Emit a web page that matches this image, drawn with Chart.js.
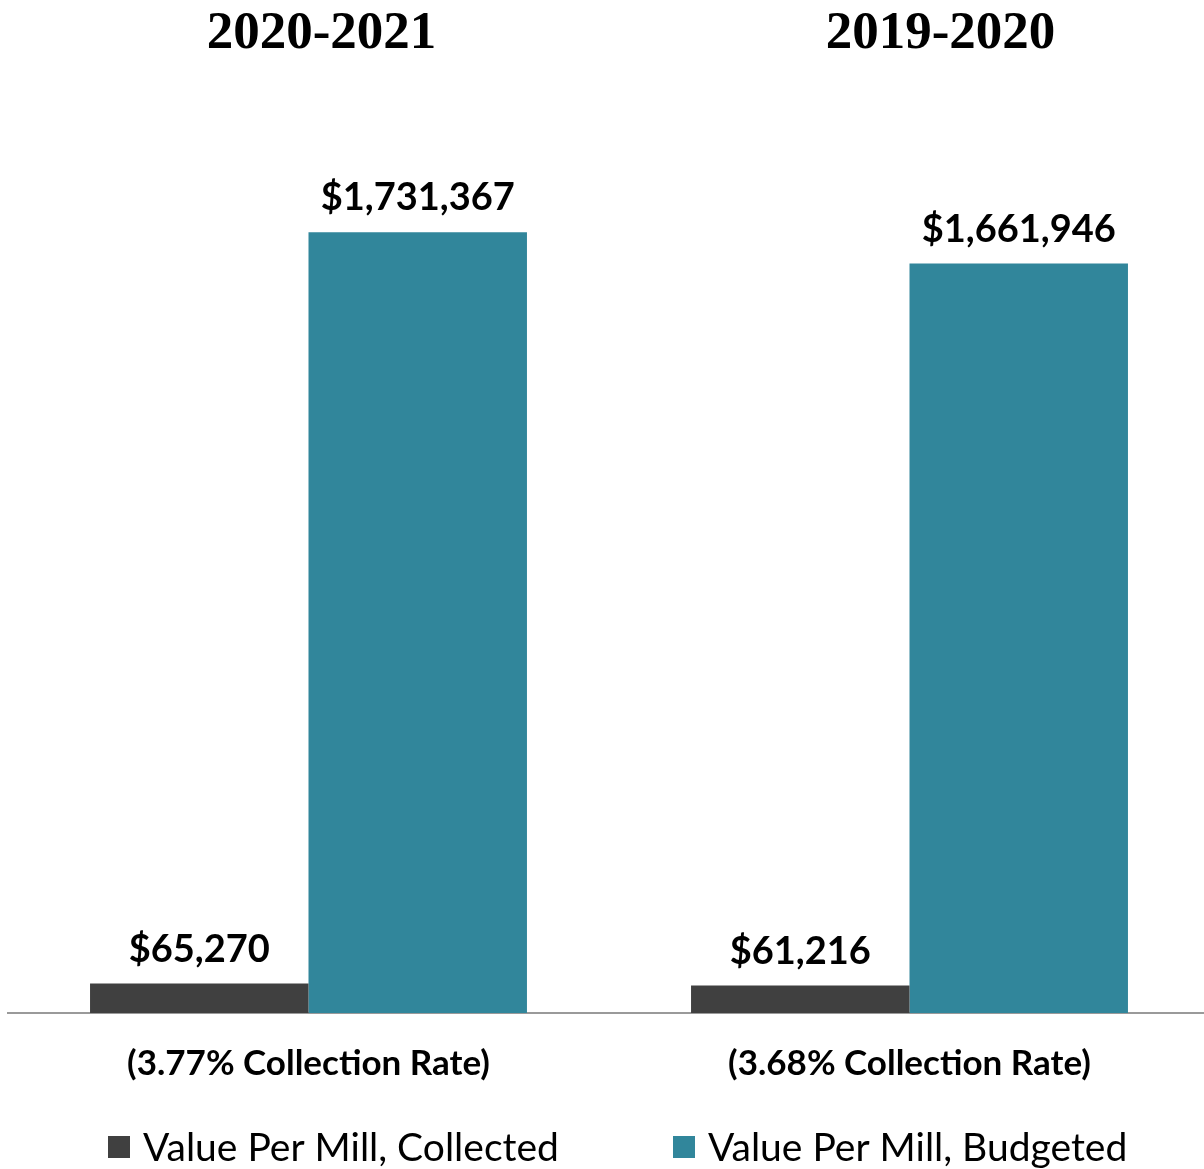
<!DOCTYPE html>
<html>
<head>
<meta charset="utf-8">
<script src="https://cdn.jsdelivr.net/npm/chart.js@4.4.0/dist/chart.umd.min.js"></script>
<style>
  html, body { margin: 0; padding: 0; background: #ffffff; overflow: hidden; }
  #wrap { width: 1210px; height: 1169px; position: relative; }
</style>
</head>
<body>
<div id="wrap"><canvas id="millChart"></canvas></div>
<script>
// Chart values
const yearTitles = ['2020-2021', '2019-2020'];
const categories = ['(3.77% Collection Rate)', '(3.68% Collection Rate)'];
const seriesNames = ['Value Per Mill, Collected', 'Value Per Mill, Budgeted'];
const collected = [65270, 61216];
const budgeted = [1731367, 1661946];

const darkColor = '#404040';
const tealColor = '#31869b';
const labelFont = 'Lato, "Open Sans", sans-serif';

// Dollar formatting for the value labels
function money(v) {
    return '$' + v.toLocaleString('en-US');
}

// Draws the year titles, value labels and the legend row
const decorPlugin = {
    id: 'decor',
    afterDraw(chart) {
        const ctx = chart.ctx;
        const xScale = chart.scales.x;
        ctx.save();

        // year titles above each group
        const titleShift = [13, 31];
        ctx.fillStyle = '#000000';
        ctx.font = 'bold 53px "Liberation Serif", "Times New Roman", serif';
        ctx.textAlign = 'center';
        ctx.textBaseline = 'middle';
        yearTitles.forEach((t, i) => {
            ctx.fillText(t, xScale.getPixelForValue(i) + titleShift[i], 34);
        });

        // value labels above bars
        ctx.font = 'bold 38px ' + labelFont;
        chart.data.datasets.forEach((ds, di) => {
            const meta = chart.getDatasetMeta(di);
            meta.data.forEach((bar, i) => {
                ctx.fillText(money(ds.data[i]), bar.x, bar.y - 34);
            });
        });

        // legend row
        const legendY = 1147;
        const legendX = [108, 673];
        ctx.font = '39px ' + labelFont;
        ctx.textAlign = 'left';
        chart.data.datasets.forEach((ds, di) => {
            ctx.fillStyle = ds.backgroundColor;
            ctx.fillRect(legendX[di], legendY - 11, 22, 22);
            ctx.fillStyle = '#000000';
            ctx.fillText(ds.label, legendX[di] + 35, legendY + 1);
        });

        ctx.restore();
    }
};

function renderChart() {
    const ctx = document.getElementById('millChart').getContext('2d');
    new Chart(ctx, {
        type: 'bar',
        data: {
            labels: categories,
            datasets: [
                { label: seriesNames[0], data: collected, backgroundColor: darkColor },
                { label: seriesNames[1], data: budgeted, backgroundColor: tealColor }
            ]
        },
        options: {
            responsive: true,
            maintainAspectRatio: false,
            animation: false,
            layout: {
                padding: { top: 111, left: 8, right: 0, bottom: 54 }
            },
            datasets: {
                bar: {
                    categoryPercentage: 0.727,
                    barPercentage: 1.0
                }
            },
            scales: {
                x: {
                    grid: { display: false, drawTicks: false },
                    border: { display: true, color: '#9a9a9a', width: 2 },
                    ticks: {
                        color: '#000000',
                        padding: 30,
                        font: { family: labelFont, size: 35, weight: 'bold' }
                    }
                },
                y: {
                    display: false,
                    min: 0,
                    max: 2000000
                }
            },
            plugins: {
                legend: { display: false },
                tooltip: { enabled: false }
            }
        },
        plugins: [decorPlugin]
    });
}

if (document.readyState === 'loading') {
    document.addEventListener('DOMContentLoaded', renderChart);
} else {
    renderChart();
}
</script>
</body>
</html>
